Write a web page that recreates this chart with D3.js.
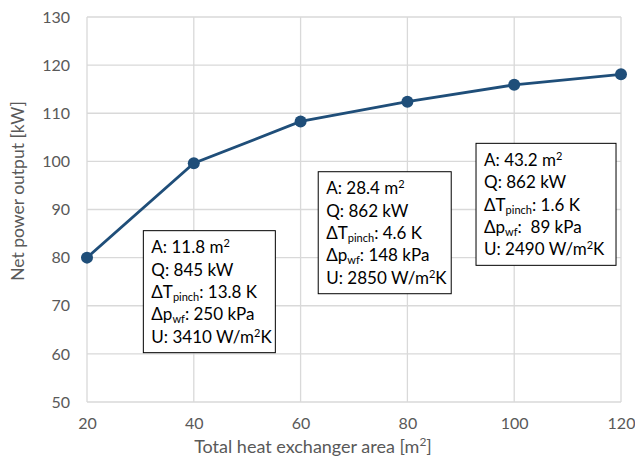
<!DOCTYPE html>
<html lang="en">
<head>
<meta charset="utf-8">
<title>Net power output</title>
<script src="https://cdn.jsdelivr.net/npm/d3@7/dist/d3.min.js"></script>
<style>
  body { margin: 0; background: #fff; }
  svg text { font-family: Lato, "Open Sans", sans-serif; }
  .tick text { fill: #595959; font-size: 16px; }
</style>
</head>
<body>
<div id="chart"></div>
<script>
// data
const areas = [20, 40, 60, 80, 100, 120];
const power = [80, 99.6, 108.3, 112.4, 115.9, 118.1];
const xTicks = [20, 40, 60, 80, 100, 120];
const yTicks = [50, 60, 70, 80, 90, 100, 110, 120, 130];

// annotation texts: [A, Q, dT pinch, dp wf, U]
const boxA = ["11.8", "28.4", "43.2"];
const boxQ = ["845", "862", "862"];
const boxDT = ["13.8", "4.6", "1.6"];
const boxDP = ["250", "148", " 89"];
const boxU = ["3410", "2850", "2490"];
// where each box sits (top-left in data units) and its pixel width
const boxAt = [[30.55, 85.6, 132], [63.3, 97.85, 133], [92.85, 103.75, 140]];

const width = 635, height = 461;
const margin = {top: 17, right: 14, bottom: 59, left: 87};

const svg = d3.select("#chart").append("svg")
  .attr("width", width).attr("height", height);

const x = d3.scaleLinear().domain([20, 120]).range([margin.left, width - margin.right]);
const y = d3.scaleLinear().domain([50, 130]).range([height - margin.bottom, margin.top]);

// grid
svg.append("g").selectAll("line").data(yTicks).enter().append("line")
  .attr("x1", x(20)).attr("x2", x(120))
  .attr("y1", d => y(d)).attr("y2", d => y(d))
  .attr("stroke", "#d9d9d9").attr("stroke-width", 1.3);
svg.append("g").selectAll("line").data(xTicks).enter().append("line")
  .attr("x1", d => x(d)).attr("x2", d => x(d))
  .attr("y1", y(50)).attr("y2", y(130))
  .attr("stroke", "#d9d9d9").attr("stroke-width", 1.3);

const xAxis = svg.append("g")
  .attr("transform", `translate(0,${y(50)})`)
  .call(d3.axisBottom(x).tickValues(xTicks).tickSize(0).tickPadding(16));
xAxis.select(".domain").remove();

const yAxis = svg.append("g")
  .attr("transform", `translate(${x(20)},0)`)
  .call(d3.axisLeft(y).tickValues(yTicks).tickSize(0).tickPadding(17));
yAxis.select(".domain").remove();

// axis titles
const xt = svg.append("text")
  .attr("x", 313).attr("y", 453)
  .attr("text-anchor", "middle").attr("fill", "#595959").attr("font-size", 18);
xt.append("tspan").text("Total heat exchanger area [m");
xt.append("tspan").attr("font-size", 12).attr("dy", -7).text("2");
xt.append("tspan").attr("dy", 7).text("]");

svg.append("text")
  .attr("transform", "translate(24,191) rotate(-90)")
  .attr("text-anchor", "middle").attr("fill", "#595959").attr("font-size", 17.5)
  .text("Net power output [kW]");

// line + markers
const pts = areas.map((a, i) => [a, power[i]]);
svg.append("path")
  .datum(pts)
  .attr("fill", "none").attr("stroke", "#1f4e79").attr("stroke-width", 2.8)
  .attr("d", d3.line().x(d => x(d[0])).y(d => y(d[1])));
svg.append("g").selectAll("circle").data(pts).enter().append("circle")
  .attr("cx", d => x(d[0])).attr("cy", d => y(d[1])).attr("r", 6)
  .attr("fill", "#1f4e79");

// annotation boxes
const boxH = 122, lineH = 22.4, fs = 17;
boxA.forEach((a, i) => {
  const bx = x(boxAt[i][0]), by = y(boxAt[i][1]);
  const g = svg.append("g").attr("transform", `translate(${bx},${by})`);
  g.append("rect").attr("width", boxAt[i][2]).attr("height", boxH)
    .attr("fill", "#fff").attr("stroke", "#000").attr("stroke-width", 1);
  const line = k => g.append("text").attr("x", 8).attr("y", 22.5 + k * lineH)
    .attr("font-size", fs).attr("fill", "#000");

  let t = line(0);
  t.append("tspan").text(`A: ${a} m`);
  t.append("tspan").attr("font-size", 11).attr("dy", -6).text("2");

  line(1).text(`Q: ${boxQ[i]} kW`);

  t = line(2);
  t.append("tspan").text("\u0394T");
  t.append("tspan").attr("font-size", 11).attr("dy", 3).text("pinch");
  t.append("tspan").attr("dy", -3).text(`: ${boxDT[i]} K`);

  t = line(3);
  t.append("tspan").text("\u0394p");
  t.append("tspan").attr("font-size", 11).attr("dy", 3).text("wf");
  t.append("tspan").attr("dy", -3).attr("xml:space", "preserve").text(`: ${boxDP[i]} kPa`);

  t = line(4);
  t.append("tspan").text(`U: ${boxU[i]} W/m`);
  t.append("tspan").attr("font-size", 11).attr("dy", -6).text("2");
  t.append("tspan").attr("dy", 6).text("K");
});
</script>
</body>
</html>
